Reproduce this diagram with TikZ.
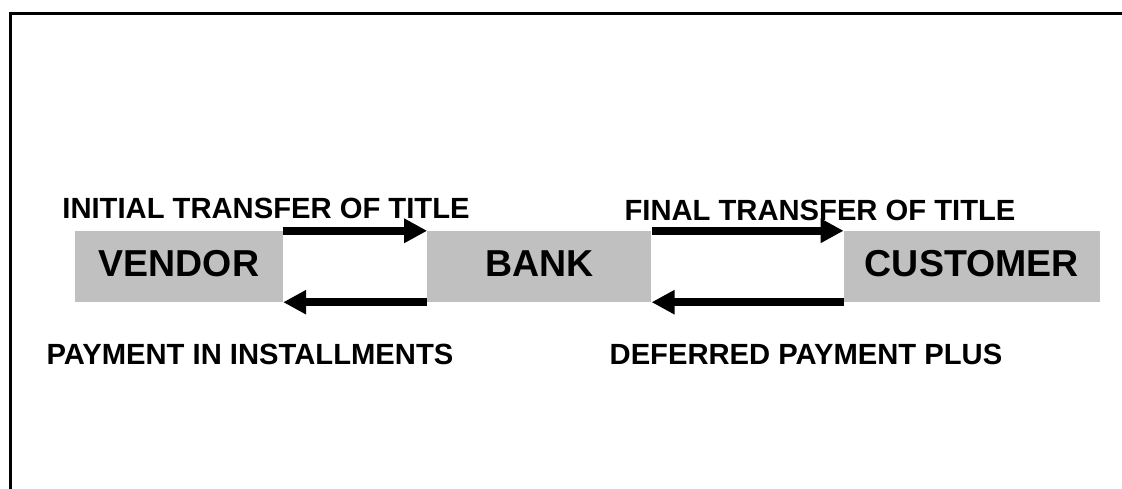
\documentclass[tikz,border=0pt]{standalone}
\usepackage{fontspec}
\setmainfont{Liberation Sans}
\usepackage{xcolor}
\usepackage{tikz}
\usetikzlibrary{positioning}
\usetikzlibrary{arrows.meta}

\definecolor{boxgray}{RGB}{192,192,192}

\begin{document}
\begin{tikzpicture}[x=1pt,y=-1pt,
      party style/.style={rectangle,fill=boxgray,minimum height=71pt,
        inner sep=0pt,text depth=6pt,font=\fontsize{37.5}{39}\selectfont\bfseries},
      flow style/.style={font=\fontsize{29.2}{31}\selectfont\bfseries,inner sep=0pt},
      flow arrow/.style={line width=8pt,-{Triangle[length=23pt,width=23pt]}}
      ]
      \useasboundingbox (0,0) rectangle (1122,489);
      \draw[line width=3pt] (10.5,489) -- (10.5,13.5) -- (1122,13.5);

      \node[party style,minimum width=208pt] (vendor) at (179,266.5) {VENDOR};
      \node[party style,minimum width=224pt,right=144pt of vendor] (bank) {BANK};
      \node[party style,minimum width=256pt,right=192pt of bank] (customer) {CUSTOMER};

      \node[flow style] (initial) at (266,208) {INITIAL TRANSFER OF TITLE};
      \node[flow style] (final) at (820,210) {FINAL TRANSFER OF TITLE};
      \node[flow style] (installments) at (250,354) {PAYMENT IN INSTALLMENTS};
      \node[flow style] (deferred) at (806,354) {DEFERRED PAYMENT PLUS};

      \draw[flow arrow] (vendor.north east) -- (bank.north west);
      \draw[flow arrow] (bank.south west) -- (vendor.south east);
      \draw[flow arrow] (bank.north east) -- (customer.north west);
      \draw[flow arrow] (customer.south west) -- (bank.south east);

    \end{tikzpicture}
\end{document}
